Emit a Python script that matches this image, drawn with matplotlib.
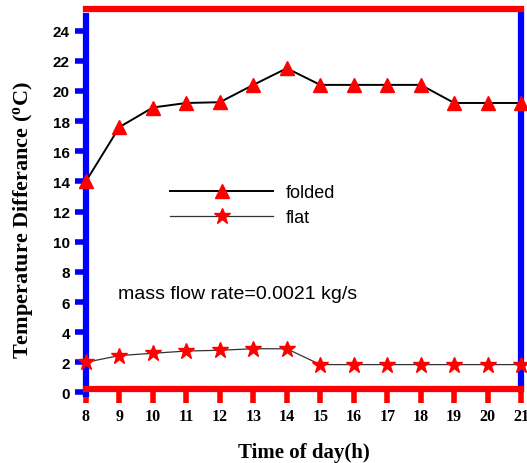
import numpy as np
import matplotlib.pyplot as plt

# Data
hours = [8, 9, 10, 11, 12, 13, 14, 15, 16, 17, 18, 19, 20, 21]
folded = [14.0, 17.6, 18.9, 19.2, 19.25, 20.4, 21.5, 20.4, 20.4, 20.4, 20.4, 19.2, 19.2, 19.2]
flat = [2.0, 2.45, 2.6, 2.75, 2.8, 2.9, 2.9, 1.85, 1.85, 1.85, 1.85, 1.85, 1.85, 1.85]
y_ticks = list(range(0, 25, 2))

fig = plt.figure(figsize=(5.27, 4.64), dpi=100)
ax = fig.add_axes([0.163, 0.1487, 0.826, 0.8287])

ax.plot(hours, folded, color='black', lw=1.4, marker='^', markersize=10,
        markerfacecolor='red', markeredgecolor='red', label='folded', clip_on=False, zorder=3)
ax.plot(hours, flat, color='#333333', lw=0.9, marker='*', markersize=12,
        markerfacecolor='red', markeredgecolor='red', label='flat', clip_on=False, zorder=3)

ax.set_xlim(8, 21)
ax.set_ylim(-0.1, 25.4)
ax.set_xticks(hours)
ax.set_yticks(y_ticks)

# Coloured thick frame (slightly offset like the original)
for side in ['left', 'right']:
    ax.spines[side].set_color('blue')
    ax.spines[side].set_linewidth(4.5)
for side in ['top', 'bottom']:
    ax.spines[side].set_color('red')
    ax.spines[side].set_linewidth(4.5)
ax.spines['left'].set_bounds(-0.1, 25.0)
ax.spines['right'].set_bounds(0.2, 25.2)
ax.spines['bottom'].set_position(('data', 0.22))

ax.tick_params(axis='y', colors='blue', direction='out', length=8, width=4, labelcolor='black')
ax.tick_params(axis='x', colors='red', direction='out', length=10, width=4, labelcolor='black')
for lbl in ax.get_xticklabels():
    lbl.set_fontfamily('Liberation Serif')
    lbl.set_fontweight('bold')
    lbl.set_fontsize(11.5)
for lbl in ax.get_yticklabels():
    lbl.set_fontfamily('Liberation Sans')
    lbl.set_fontweight('bold')
    lbl.set_fontsize(11)

ax.set_xlabel('Time of day(h)', family='Liberation Serif', fontweight='bold', fontsize=15, labelpad=13)
ax.set_ylabel('Temperature Differance ($\\mathregular{^o}$C)', family='Liberation Serif',
              fontweight='bold', fontsize=16)
ax.yaxis.set_label_coords(-0.116, 0.455)

ax.text(8.95, 6.25, 'mass flow rate=0.0021 kg/s', family='Liberation Sans', fontsize=14)

ax.legend(loc='upper left', bbox_to_anchor=(0.156, 0.588), frameon=False,
          prop={'family': 'Liberation Sans', 'size': 13}, handlelength=5.7,
          labelspacing=0.45, handletextpad=0.7)

plt.savefig('out.png', dpi=100)
